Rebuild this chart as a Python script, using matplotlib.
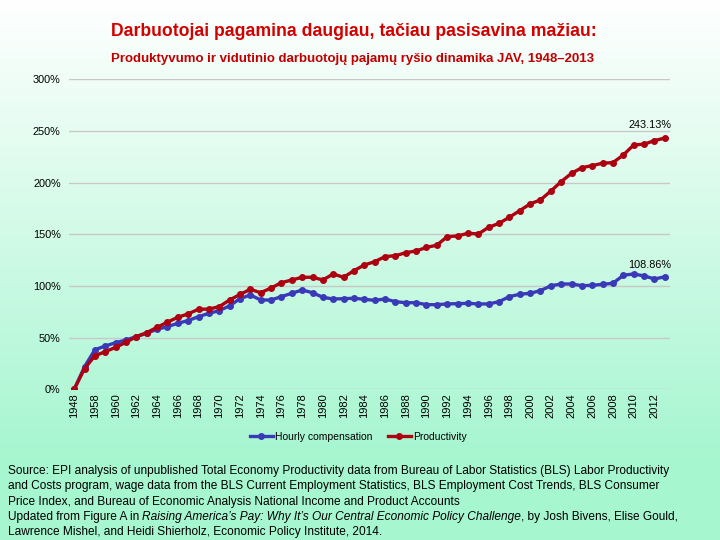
import matplotlib
matplotlib.use("Agg")
import matplotlib.pyplot as plt
import numpy as np

# categories (second category sits between 1948 and 1958 and has no visible label)
years = [1948, 1953] + list(range(1958, 2014))

productivity = [0, 20, 32.5, 36.4, 40.6, 45.5, 51, 54.8, 60, 65,
                69.7, 73, 77.5, 77.6, 80, 86.4, 91.8, 96.7, 93.5, 98,
                103.2, 105.8, 108.4, 108.4, 105.8, 111.6, 108.4, 114.8, 120.3, 123.5,
                128.4, 129.3, 132.2, 133.9, 137.3, 139.5, 147.7, 148.4, 151, 150.3,
                156.8, 160.6, 166.5, 172.9, 179.4, 183.3, 191.8, 201, 209, 214.5,
                216.5, 218.8, 219.4, 226.8, 236.5, 237.2, 240.7, 243.13]

compensation = [0, 21.9, 38.3, 41.9, 45.1, 47.7, 51, 54.2, 58.1, 60.6,
                63.9, 66.5, 70.3, 73.5, 76.1, 80.8, 87.7, 91.3, 86.4, 86.4,
                89.7, 92.9, 96.1, 93.5, 89, 87.4, 87.7, 88.1, 87.1, 86.1,
                87.4, 84.8, 83.8, 83.8, 81.9, 81.9, 82.6, 82.9, 83.2, 82.6,
                82.6, 84.8, 89.7, 92, 92.9, 95.5, 100.2, 101.9, 101.9, 100.3,
                100.6, 101.6, 102.6, 110.4, 111.6, 109.7, 106.8, 108.86]

yticks = [0, 50, 100, 150, 200, 250, 300]

title = "Darbuotojai pagamina daugiau, tačiau pasisavina mažiau:"
subtitle = "Produktyvumo ir vidutinio darbuotojų pajamų ryšio dinamika JAV, 1948–2013"

plt.rcParams['font.family'] = ['Liberation Sans', 'DejaVu Sans']

fig = plt.figure(figsize=(7.2, 5.4), dpi=100)

# gradient background
bg = fig.add_axes([0, 0, 1, 1], zorder=-5)
top = np.array([255, 255, 255]) / 255
bot = np.array([166, 246, 208]) / 255
t = np.clip(np.linspace(0, 1, 540) / 0.85, 0, 1)[:, None]
grad = top * (1 - t) + bot * t
bg.imshow(np.repeat(grad[:, None, :], 2, axis=1), aspect='auto', extent=[0, 1, 0, 1])
bg.axis('off')

ax = fig.add_axes([69 / 720, (540 - 389.3) / 540, 601 / 720, 310 / 540])
ax.set_facecolor('none')
x = np.arange(len(years))

blue = '#3a3ab8'
red = '#ad0010'
ax.plot(x, compensation, color=blue, lw=2.4, marker='o', ms=4, label='Hourly compensation', zorder=3)
ax.plot(x, productivity, color=red, lw=2.4, marker='o', ms=4, label='Productivity', zorder=4)

ax.set_xlim(-0.5, len(years) - 0.5)
ax.set_ylim(0, 300)
ax.set_yticks(yticks)
ax.set_yticklabels([f"{v}%" for v in yticks], fontsize=7.8)
ax.yaxis.grid(True, color='#c8c8c8', lw=1)
ax.set_axisbelow(True)
ax.set_xticks(x[::2])
ax.set_xticklabels([str(years[i]) for i in range(0, len(years), 2)], rotation=90, fontsize=8)
ax.tick_params(length=0)
ax.tick_params(axis='x', pad=3)
ax.tick_params(axis='y', pad=6)
for s in ax.spines.values():
    s.set_visible(False)

ax.annotate(f"{productivity[-1]:.2f}%", (x[-1], productivity[-1]), xytext=(-15, 13),
            textcoords='offset pixels', ha='center', va='center', fontsize=7.8)
ax.annotate(f"{compensation[-1]:.2f}%", (x[-1], compensation[-1]), xytext=(-15, 12),
            textcoords='offset pixels', ha='center', va='center', fontsize=7.8)

fig.legend(loc='center', bbox_to_anchor=(358 / 720, 1 - 437 / 540), ncol=2, frameon=False,
           fontsize=7.5, handlelength=2.2, handletextpad=0.2, columnspacing=1.5)

fig.text(354 / 720, 1 - 32 / 540, title, ha='center', va='center', fontsize=12.7,
         fontweight='bold', color='#d40000')
fig.text(353 / 720, 1 - 59 / 540, subtitle, ha='center', va='center', fontsize=9.5,
         fontweight='bold', color='#c00000')

# source notes
src = [
    "Source: EPI analysis of unpublished Total Economy Productivity data from Bureau of Labor Statistics (BLS) Labor Productivity",
    "and Costs program, wage data from the BLS Current Employment Statistics, BLS Employment Cost Trends, BLS Consumer",
    "Price Index, and Bureau of Economic Analysis National Income and Product Accounts",
]
fs = 8.55
y0 = 471
for i, line in enumerate(src):
    fig.text(8 / 720, 1 - (y0 + i * 15.3) / 540, line, fontsize=fs, va='center')

renderer = fig.canvas.get_renderer()
parts = [("Updated from Figure A in ", 'normal'),
         ("Raising America’s Pay: Why It’s Our Central Economic Policy Challenge", 'italic'),
         (", by Josh Bivens, Elise Gould,", 'normal')]
xpos = 8
yl = 1 - (y0 + 3 * 15.3) / 540
for txt, style in parts:
    tt = fig.text(xpos / 720, yl, txt, fontsize=fs, style=style, va='center')
    xpos += tt.get_window_extent(renderer).width
fig.text(8 / 720, 1 - (y0 + 4 * 15.3) / 540,
         "Lawrence Mishel, and Heidi Shierholz, Economic Policy Institute, 2014.", fontsize=fs, va='center')

fig.savefig('out.png', dpi=100)
